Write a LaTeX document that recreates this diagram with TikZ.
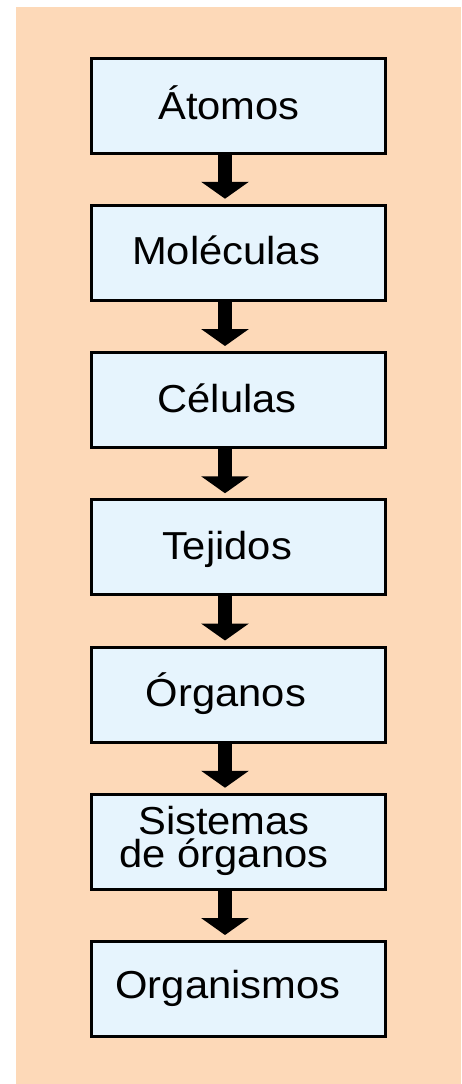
\documentclass[tikz,border=0pt]{standalone}
\usepackage{fontspec}
\setmainfont{Liberation Sans}
\usetikzlibrary{arrows.meta}
\definecolor{peach}{RGB}{253,217,184}
\definecolor{boxfill}{RGB}{230,244,253}
\tikzset{
  levelbox/.style={draw=black, line width=3pt, fill=boxfill, minimum width=294pt, minimum height=95pt, inner sep=0pt},
  leveltext/.style={anchor=base, inner sep=0pt, font=\fontsize{39}{33}\selectfont, align=center, xscale=1.07, transform shape},
  bigarrow/.style={line width=14pt, -{Triangle[width=47pt 0, length=17pt 0]}}
}
\begin{document}
\begin{tikzpicture}[x=1pt,y=-1pt]
\useasboundingbox (0,0) rectangle (461,1084);
\fill[white] (0,0) rectangle (461,1084);
\fill[peach] (16,7) rectangle (461,1084);
\foreach \i/\c in {1/105.5,2/252.75,3/400,4/547.25,5/694.5,6/841.75,7/989}{
  \node[levelbox] (b\i) at (238.5,\c) {};
}
\node[leveltext] (t1) at (229,105.5+14) {Átomos};
\node[leveltext] (t2) at (226,252.75+12) {Moléculas};
\node[leveltext] (t3) at (227,400+12) {Células};
\node[leveltext] (t4) at (227,547.25+12) {Tejidos};
\node[leveltext] (t5) at (226,694.5+12) {Órganos};
\node[leveltext] (t6) at (224,841.75+26) {Sistemas\\de órganos};
\node[leveltext] (t7) at (228,989+9) {Organismos};
\foreach \a/\b in {1/2,2/3,3/4,4/5,5/6,6/7}{
  \draw[bigarrow] ([xshift=-13.5pt]b\a.south) -- ([xshift=-13.5pt,yshift=5pt]b\b.north);
}
\end{tikzpicture}
\end{document}
